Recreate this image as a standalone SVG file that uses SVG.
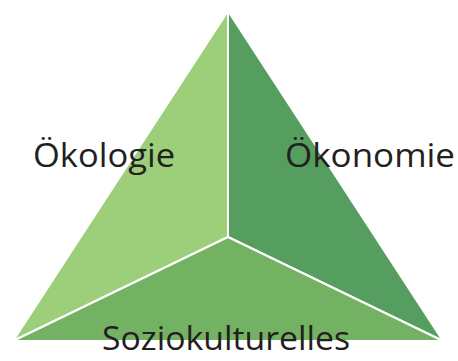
<svg xmlns="http://www.w3.org/2000/svg" width="458" height="361" viewBox="0 0 458 361">
<style>
.face{stroke:#ffffff;stroke-width:2;stroke-linejoin:round}
.lbl{font-family:"Open Sans","Noto Sans",sans-serif;font-size:32px;fill:#231f20}
</style>
<rect width="458" height="361" fill="#ffffff"/>
<g id="oekologie">
<polygon class="face" points="228,11 228,237 13,341" fill="#9dcf7a"/>
</g>
<g id="oekonomie">
<polygon class="face" points="228,11 443,341 228,237" fill="#569e5f"/>
</g>
<g id="soziokulturelles">
<polygon class="face" points="13,341 228,237 443,341" fill="#73b263"/>
</g>
<g id="labels">
<text class="lbl" x="33" y="167" textLength="142" lengthAdjust="spacingAndGlyphs">Ökologie</text>
<text class="lbl" x="285" y="167" textLength="170" lengthAdjust="spacingAndGlyphs">Ökonomie</text>
<text class="lbl" x="102" y="350" textLength="248" lengthAdjust="spacingAndGlyphs">Soziokulturelles</text>
</g>
</svg>
